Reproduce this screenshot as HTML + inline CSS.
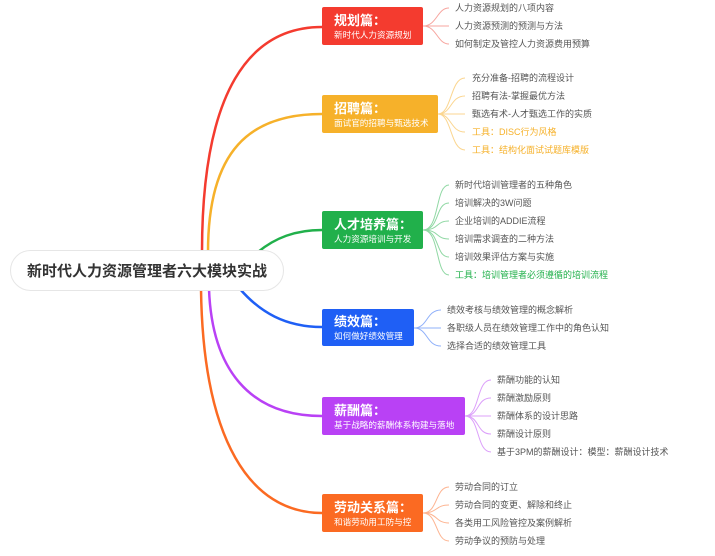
<!DOCTYPE html>
<html><head><meta charset="utf-8"><style>
body{margin:0;background:#fff;width:715px;height:551px;overflow:hidden}
svg text{font-family:"Liberation Sans","Noto Sans CJK SC",sans-serif}
</style></head><body>
<svg width="715" height="551" viewBox="0 0 715 551" xmlns="http://www.w3.org/2000/svg">
<g fill="none" stroke-width="2.5">
<path d="M202,252 C202,90 250,27 322,27" stroke="#f43b2f"/>
<path d="M208,252 C208,150 250,114 322,114" stroke="#f6b12a"/>
<path d="M258,252 C275,238 295,230 322,230" stroke="#21b04b"/>
<path d="M240,289 C260,312 285,327 322,327" stroke="#1f5ff5"/>
<path d="M209,289 C212,370 250,416 322,416" stroke="#b941f5"/>
<path d="M201,289 C203,440 250,513 322,513" stroke="#fb6a22"/>
</g>
<rect x="10.5" y="250.5" width="273" height="40" rx="20" fill="#fff" stroke="#e6e6e6"/>
<text x="27" y="276" font-size="15" font-weight="bold" fill="#333">新时代人力资源管理者六大模块实战</text>

<g font-size="9">
<rect x="322" y="7" width="101" height="38" rx="2" fill="#f43b2f"/>
<text x="334" y="25" font-size="13" font-weight="bold" fill="#fff">规划篇：</text>
<text x="334" y="38" font-size="8.6" fill="#fff">新时代人力资源规划</text>
<g fill="none" stroke="#f7a59f" stroke-width="1">
<path d="M423,26 C437,26 437,8 449,8"/><path d="M423,26 L449,26"/><path d="M423,26 C437,26 437,44 449,44"/>
</g>
<g fill="#555"><text x="455" y="11">人力资源规划的八项内容</text><text x="455" y="29">人力资源预测的预测与方法</text><text x="455" y="47">如何制定及管控人力资源费用预算</text></g>

<rect x="322" y="95" width="116" height="38" rx="2" fill="#f6b12a"/>
<text x="334" y="113" font-size="13" font-weight="bold" fill="#fff">招聘篇：</text>
<text x="334" y="126" font-size="8.6" fill="#fff">面试官的招聘与甄选技术</text>
<g fill="none" stroke="#fbd690" stroke-width="1">
<path d="M438,114 C452,114 450,78 465,78"/><path d="M438,114 C452,114 450,96 465,96"/><path d="M438,114 L465,114"/><path d="M438,114 C452,114 450,132 465,132"/><path d="M438,114 C452,114 450,150 465,150"/>
</g>
<g fill="#555"><text x="472" y="81">充分准备-招聘的流程设计</text><text x="472" y="99">招聘有法-掌握最优方法</text><text x="472" y="117">甄选有术-人才甄选工作的实质</text></g>
<g fill="#f6b12a"><text x="472" y="135">工具：DISC行为风格</text><text x="472" y="153">工具：结构化面试试题库模版</text></g>

<rect x="322" y="211" width="101" height="38" rx="2" fill="#21b04b"/>
<text x="334" y="229" font-size="13" font-weight="bold" fill="#fff">人才培养篇：</text>
<text x="334" y="242" font-size="8.6" fill="#fff">人力资源培训与开发</text>
<g fill="none" stroke="#90d8a4" stroke-width="1">
<path d="M423,230 C440,230 435,185 449,185"/><path d="M423,230 C440,230 435,203 449,203"/><path d="M423,230 C440,230 435,221 449,221"/><path d="M423,230 C440,230 435,239 449,239"/><path d="M423,230 C440,230 435,257 449,257"/><path d="M423,230 C440,230 435,275 449,275"/>
</g>
<g fill="#555"><text x="455" y="188">新时代培训管理者的五种角色</text><text x="455" y="206">培训解决的3W问题</text><text x="455" y="224">企业培训的ADDIE流程</text><text x="455" y="242">培训需求调查的二种方法</text><text x="455" y="260">培训效果评估方案与实施</text></g>
<text x="455" y="278" fill="#21b04b">工具：培训管理者必须遵循的培训流程</text>

<rect x="322" y="309" width="92" height="37" rx="2" fill="#1f5ff5"/>
<text x="334" y="326" font-size="13" font-weight="bold" fill="#fff">绩效篇：</text>
<text x="334" y="339" font-size="8.6" fill="#fff">如何做好绩效管理</text>
<g fill="none" stroke="#8fb0fa" stroke-width="1">
<path d="M414,328 C428,328 426,310 441,310"/><path d="M414,328 L441,328"/><path d="M414,328 C428,328 426,346 441,346"/>
</g>
<g fill="#555"><text x="447" y="313">绩效考核与绩效管理的概念解析</text><text x="447" y="331">各职级人员在绩效管理工作中的角色认知</text><text x="447" y="349">选择合适的绩效管理工具</text></g>

<rect x="322" y="397" width="143" height="38" rx="2" fill="#b941f5"/>
<text x="334" y="415" font-size="13" font-weight="bold" fill="#fff">薪酬篇：</text>
<text x="334" y="428" font-size="8.6" fill="#fff">基于战略的薪酬体系构建与落地</text>
<g fill="none" stroke="#dca0fa" stroke-width="1">
<path d="M465,416 C480,416 476,380 491,380"/><path d="M465,416 C480,416 476,398 491,398"/><path d="M465,416 L491,416"/><path d="M465,416 C480,416 476,434 491,434"/><path d="M465,416 C480,416 476,452 491,452"/>
</g>
<g fill="#555"><text x="497" y="383">薪酬功能的认知</text><text x="497" y="401">薪酬激励原则</text><text x="497" y="419">薪酬体系的设计思路</text><text x="497" y="437">薪酬设计原则</text><text x="497" y="455">基于3PM的薪酬设计：模型：薪酬设计技术</text></g>

<rect x="322" y="494" width="101" height="38" rx="2" fill="#fb6a22"/>
<text x="334" y="512" font-size="13" font-weight="bold" fill="#fff">劳动关系篇：</text>
<text x="334" y="525" font-size="8.6" fill="#fff">和谐劳动用工防与控</text>
<g fill="none" stroke="#fdb491" stroke-width="1">
<path d="M423,513 C438,513 435,487 449,487"/><path d="M423,513 C438,513 435,505 449,505"/><path d="M423,513 C438,513 435,523 449,523"/><path d="M423,513 C438,513 435,541 449,541"/>
</g>
<g fill="#555"><text x="455" y="490">劳动合同的订立</text><text x="455" y="508">劳动合同的变更、解除和终止</text><text x="455" y="526">各类用工风险管控及案例解析</text><text x="455" y="544">劳动争议的预防与处理</text></g>
</g>
</svg>
</body></html>
